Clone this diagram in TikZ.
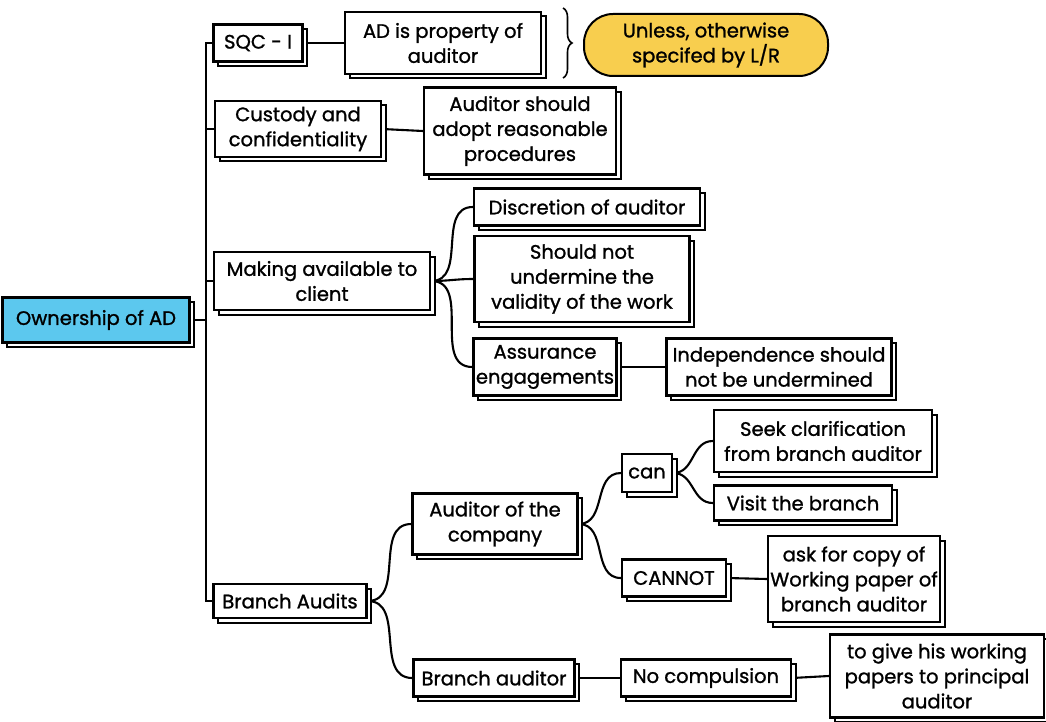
\documentclass[tikz,border=0pt]{standalone}
\usepackage{fontspec}
% medium-weight text: the regular face, slightly emboldened
\setmainfont{Poppins}[BoldFont={Poppins}, BoldFeatures={FakeBold=1.2}]
\usetikzlibrary{shadows,backgrounds,decorations.pathreplacing}

\definecolor{rootblue}{HTML}{5CC8EE}
\definecolor{noteyellow}{HTML}{F8CE4E}

\tikzset{
  box/.style={draw=black, line width=2.3pt, fill=white, align=center,
    inner sep=2pt, font=\fontsize{19.5}{25}\selectfont\bfseries,
    copy shadow={shadow xshift=4.5pt, shadow yshift=-4.5pt, fill=white, draw=black, line width=2pt}},
  root/.style={box, fill=rootblue},
  note/.style={draw=black, line width=2pt, fill=noteyellow, align=center,
    rounded corners=29pt, font=\fontsize{19.5}{25}\selectfont\bfseries},
  link/.style={draw=black, line width=2.1pt},
  curvelink/.style={link, out=0, in=180, looseness=1.1}
}
\newcommand{\bx}[5]{\node[box, minimum width=#3pt, minimum height=#4pt] (#1) at (#2) {#5};}

\begin{document}
\begin{tikzpicture}[x=1pt, y=-1pt]
\useasboundingbox (0,0) rectangle (1046,722);

\node[root, minimum width=187pt, minimum height=45pt] (own) at (96,320) {Ownership of AD};

\bx{sqc}{258,43}{89}{37}{SQC - I}
\bx{adprop}{443,43}{196}{62}{AD is property of\\auditor}
\node[note, minimum width=244pt, minimum height=62pt] (unless) at (706,45) {Unless, otherwise\\specifed by L/R};

\bx{cust}{298,129}{166}{56}{Custody and\\confidentiality}
\bx{adopt}{520,131}{192}{87}{Auditor should\\adopt reasonable\\procedures}

\bx{make}{322,281}{216}{58}{Making available to\\client}
\bx{disc}{587,207}{226}{37}{Discretion of auditor}
\bx{valid}{582,279}{215}{86}{Should not\\undermine the\\validity of the work}
\bx{assur}{545,367}{143}{57}{Assurance\\engagements}
\bx{indep}{779,367}{225}{57}{Independence should\\not be undermined}

\bx{branch}{290,601}{153}{34}{Branch Audits}
\bx{aoc}{495,524}{165}{61}{Auditor of the\\company}
\bx{can}{647,473}{50}{38}{can}
\bx{seek}{823,441}{218}{62}{Seek clarification\\from branch auditor}
\bx{visit}{803,503}{178}{35}{Visit the branch}
\bx{cannot}{674,578}{104}{37}{CANNOT}
\bx{askcopy}{854,579}{172}{86}{ask for copy of\\Working paper of\\branch auditor}
\bx{bauditor}{494,678}{161}{37}{Branch auditor}
\bx{nocomp}{706,678}{170}{37}{No compulsion}
\bx{togive}{937,676}{214}{83}{to give his working\\papers to principal\\auditor}

% brace grouping the ownership rule with its exception
\coordinate (braceTop) at (563,8);
\coordinate (braceBot) at (563,78);
\draw[line width=1.6pt, decorate, decoration={brace, amplitude=9pt}] (braceTop) -- (braceBot);

\begin{scope}[on background layer]
  % trunk from the root to the first-level topics
  \foreach \c in {sqc, cust, make, branch}
    \draw[link] (own.east) -- ++(15,0) |- (\c.west);
  % straight links
  \draw[link] (sqc.east) -- (adprop.west);
  \draw[link] (cust.east) -- (adopt.west);
  \draw[link] (assur.east) -- (indep.west);
  \draw[link] (cannot.east) -- (askcopy.west);
  \draw[link] (bauditor.east) -- (nocomp.west);
  \draw[link] (nocomp.east) -- (togive.west);
  % curved branches
  \foreach \c in {disc, valid, assur}
    \draw[link] (make.east) to[curvelink] (\c.west);
  \foreach \c in {aoc, bauditor}
    \draw[link] (branch.east) to[curvelink] (\c.west);
  \foreach \c in {can, cannot}
    \draw[link] (aoc.east) to[curvelink] (\c.west);
  \foreach \c in {seek, visit}
    \draw[link] (can.east) to[curvelink] (\c.west);
\end{scope}
\end{tikzpicture}
\end{document}
